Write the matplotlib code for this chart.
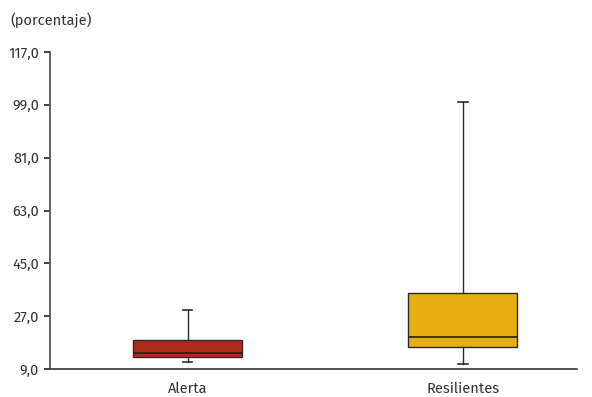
import matplotlib
matplotlib.use("Agg")
import matplotlib.pyplot as plt
from matplotlib.ticker import FuncFormatter

categories = ["Alerta", "Resilientes"]
whisker_low = [11.5, 10.6]
q1 = [13.1, 16.6]
median = [14.6, 19.8]
q3 = [18.8, 34.9]
whisker_high = [29.2, 100.0]
colors = ["#B12B1D", "#E8AE12"]
yticks = [9.0, 27.0, 45.0, 63.0, 81.0, 99.0, 117.0]

plt.rcParams["font.family"] = ["Fira Sans", "Open Sans", "DejaVu Sans"]

fig = plt.figure(figsize=(5.92, 3.97), dpi=100)
ax = fig.add_axes([0.0845, 0.0705, 0.890, 0.7985])

stats = []
for i, name in enumerate(categories):
    stats.append(dict(label=name, whislo=whisker_low[i], q1=q1[i], med=median[i],
                      q3=q3[i], whishi=whisker_high[i], fliers=[]))

positions = list(range(len(categories)))
bp = ax.bxp(stats, positions=positions, widths=0.396, patch_artist=True,
            showfliers=False, capwidths=0.035,
            boxprops=dict(edgecolor="#2b2b2b", linewidth=1.0),
            medianprops=dict(color="#2b1a10", linewidth=1.2),
            whiskerprops=dict(color="#2b2b2b", linewidth=1.0),
            capprops=dict(color="#2b2b2b", linewidth=1.2))
for patch, c in zip(bp["boxes"], colors):
    patch.set_facecolor(c)

ax.set_xlim(-0.5, 1.415)
ax.set_ylim(yticks[0], yticks[-1])
ax.set_yticks(yticks)
ax.yaxis.set_major_formatter(FuncFormatter(lambda v, p: f"{v:.1f}".replace(".", ",")))
ax.set_xticks(positions)
ax.set_xticklabels(categories)

for s in ["top", "right"]:
    ax.spines[s].set_visible(False)
ax.spines["left"].set_color("#555555")
ax.spines["left"].set_linewidth(1.3)
ax.spines["bottom"].set_color("#333333")
ax.spines["bottom"].set_linewidth(1.2)
ax.tick_params(axis="y", length=4, width=1.3, color="#333333", labelsize=10.5,
               labelcolor="#333333", pad=4)
ax.tick_params(axis="x", length=0, labelsize=10.5, labelcolor="#333333", pad=9)

fig.text(0.017, 0.948, "(porcentaje)", fontsize=10.5, color="#333333", va="center")

fig.savefig("out.png", dpi=100)
